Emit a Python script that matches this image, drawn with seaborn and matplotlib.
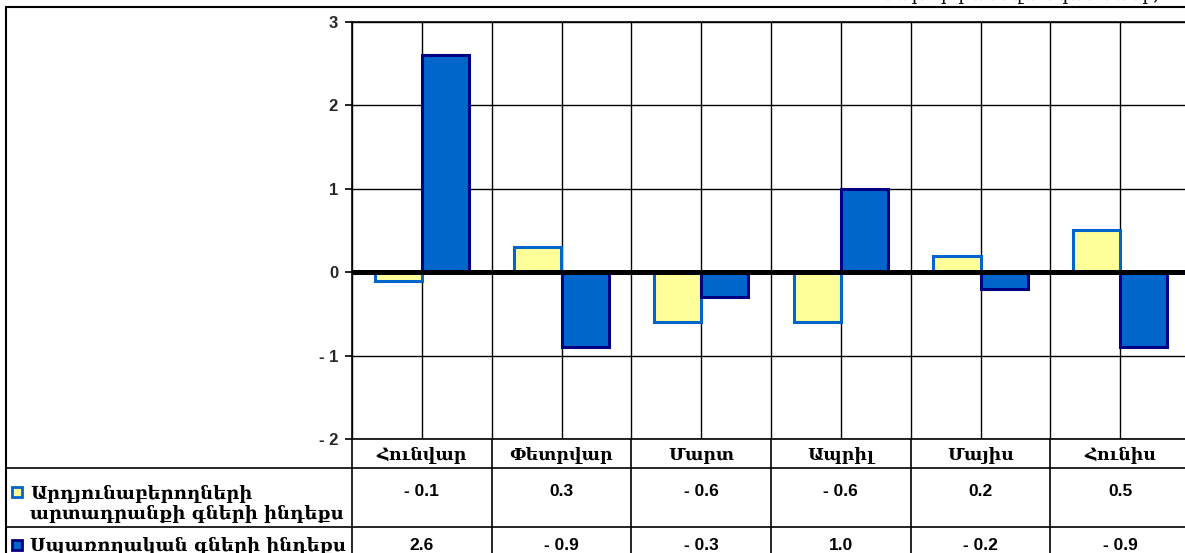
import numpy as np
import pandas as pd
import matplotlib
matplotlib.use("Agg")
import matplotlib.pyplot as plt
import matplotlib.transforms as mtransforms
from matplotlib.lines import Line2D
from matplotlib.patches import Rectangle
import seaborn as sns

# ---------------- data ----------------
months = ["Հունվար", "Փետրվար", "Մարտ", "Ապրիլ", "Մայիս", "Հունիս"]
ppi = [-0.1, 0.3, -0.6, -0.6, 0.2, 0.5]
cpi = [2.6, -0.9, -0.3, 1.0, -0.2, -0.9]
series_names = ["Արդյունաբերողների\nարտադրանքի գների ինդեքս",
                "Սպառողական գների ինդեքս"]
y_ticks = [-2, -1, 0, 1, 2, 3]
y_tick_labels = ["- 2", "- 1", "0", "1", "2", "3"]
top_note = "նախորդ ամսվա նկատմամբ, %"

# ---------------- style ----------------
sns.set_theme(style="white")
plt.rcParams["font.family"] = ["Liberation Sans", "DejaVu Sans"]
serif = ["DejaVu Serif", "DejaVu Sans"]

W, H = 1185, 553
fig = plt.figure(figsize=(W / 100, H / 100), dpi=100)
fig.patch.set_facecolor("white")


def fx(px):
    return px / W


def fy(py):
    return 1 - py / H


L, R, T, B = 352, 1190, 22, 439
ax = fig.add_axes([fx(L), fy(B), fx(R) - fx(L), fy(T) - fy(B)])

df = pd.DataFrame({
    "month": months * 2,
    "value": ppi + cpi,
    "series": [series_names[0]] * len(months) + [series_names[1]] * len(months),
})
fills = ["#FFFF99", "#0066CC"]
edges = ["#0066CC", "#000080"]

sns.barplot(data=df, x="month", y="value", hue="series", order=months,
            hue_order=series_names, palette=fills, width=0.675, gap=0,
            saturation=1, errorbar=None, legend=False, ax=ax, zorder=3)
for cont, ec in zip(ax.containers, edges):
    for p in cont:
        p.set_edgecolor(ec)
        p.set_linewidth(2.2)
        p.set_joinstyle("miter")
        p.set_zorder(3)

ax.set_xlim(-0.5, len(months) - 0.5)
ax.set_ylim(-2, 3)
ax.set_xlabel("")
ax.set_ylabel("")
ax.set_xticks(np.arange(-0.5, len(months) - 0.49, 0.5))
ax.set_xticklabels([])
ax.tick_params(axis="x", length=0)
ax.set_yticks(y_ticks)
ax.set_yticklabels(y_tick_labels, fontweight="bold", fontsize=12)
ax.tick_params(axis="y", length=5, width=1.2, color="black", direction="out",
               pad=5, left=True)
ax.set_axisbelow(True)
ax.grid(True, color="black", lw=1.0)
for s in ax.spines.values():
    s.set_color("black")
    s.set_linewidth(1.2)
ax.axhline(0, color="black", lw=3.6, zorder=6)

# ---------------- data table ----------------
lc = "black"
blend = mtransforms.blended_transform_factory(ax.transData, fig.transFigure)

# frame
fig.add_artist(Line2D([fx(6), 1], [fy(7), fy(7)], transform=fig.transFigure, color=lc, lw=1.5))
fig.add_artist(Line2D([fx(6), fx(6)], [fy(7), 0], transform=fig.transFigure, color=lc, lw=1.5))
for yy in (468, 527):
    fig.add_artist(Line2D([fx(6), 1], [fy(yy), fy(yy)], transform=fig.transFigure, color=lc, lw=1.2))
for b in np.arange(-0.5, len(months) - 0.5, 1.0):
    fig.add_artist(Line2D([b, b], [fy(B), 0], transform=blend, color=lc, lw=1.2))

for i, m in enumerate(months):
    fig.text(i, fy(455), m, transform=blend, ha="center", va="center",
             fontsize=12.5, fontweight="bold", family=serif, color="black")


def fmt(v):
    return f"- {abs(v):.1f}" if v < 0 else f"{v:.1f}"


for i, v in enumerate(ppi):
    fig.text(i, fy(492), fmt(v), transform=blend, ha="center", va="center",
             fontsize=12.5, fontweight="bold", color="black")
for i, v in enumerate(cpi):
    fig.text(i, fy(545), fmt(v), transform=blend, ha="center", va="center",
             fontsize=12.5, fontweight="bold", color="black")

# legend keys
for ycen, fc, ec in ((492, fills[0], edges[0]), (545, fills[1], edges[1])):
    fig.add_artist(Rectangle((fx(12), fy(ycen + 5)), fx(10), 10 / H,
                             transform=fig.transFigure, facecolor=fc,
                             edgecolor=ec, lw=2.0))
fig.text(fx(30), fy(504), series_names[0], ha="left", va="center",
         fontsize=13, fontweight="bold", family=serif, color="black",
         linespacing=1.2)
fig.text(fx(30), fy(546), series_names[1], ha="left", va="center",
         fontsize=13, fontweight="bold", family=serif, color="black")

# cut-off note at the very top
fig.text(fx(1182), fy(-1), top_note, ha="right", va="baseline",
         fontsize=13, family=serif, color="black")

fig.savefig("out.png", dpi=100)
